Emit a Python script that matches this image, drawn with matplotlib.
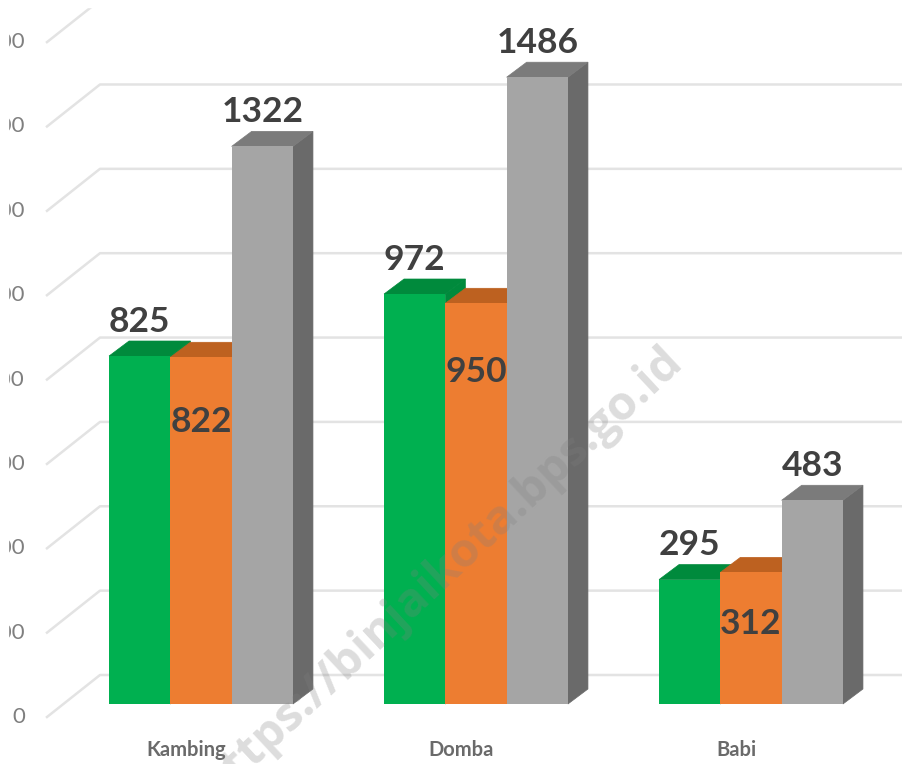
import numpy as np
import matplotlib
matplotlib.use("Agg")
import matplotlib.pyplot as plt
from matplotlib.patches import Polygon

# 1. Data
categories = ["Kambing", "Domba", "Babi"]
series_green = [825, 972, 295]
series_orange = [822, 950, 312]
series_gray = [1322, 1486, 483]
ticks = [0, 200, 400, 600, 800, 1000, 1200, 1400, 1600]

# 2. Figure scale: one axes over the whole picture
W, H = 903, 764
px_x = 275.0        # pixels per category
px_y = 0.4218       # pixels per unit
x0_px = 201.0
y0_px = 704.0

fig = plt.figure(figsize=(W / 100, H / 100), dpi=100)
ax = fig.add_axes([0, 0, 1, 1])
ax.set_xlim(-x0_px / px_x, (W - x0_px) / px_x)
ax.set_ylim(-(H - y0_px) / px_y, y0_px / px_y)
ax.axis("off")

bar_w = 61.3 / px_x
depth_x = 20 / px_x
depth_y = 15 / px_y

# 3. Back wall grid lines with the slanted floor part
wall_left = -154 / px_x
wall_right = -101 / px_x
front_off = -13 / px_y
back_off = 29 / px_y
for t in ticks:
    ax.plot([wall_left, wall_right, ax.get_xlim()[1]],
            [t + front_off, t + back_off, t + back_off],
            color="#e3e3e3", lw=1.8, solid_joinstyle="round", zorder=1)
    # labels are cut by the left edge in the reference too
    ax.text(wall_left - 22 / px_x, t + front_off, str(t), ha="right", va="center",
            fontsize=16, color="#7f7f7f", family="Lato", zorder=2)

# the picture is cropped white along the top and left
ax.axhspan((y0_px - 7) / px_y, y0_px / px_y, color="white", zorder=2.5)
ax.axvspan(-x0_px / px_x, (8 - x0_px) / px_x, color="white", zorder=2.5)


# 4. Bars: side and top faces first, then fronts
def draw_top(values, offset, color, z):
    for i, v in enumerate(values):
        l = i + offset - bar_w / 2
        r = i + offset + bar_w / 2
        ax.add_patch(Polygon([(l, v), (l + depth_x, v + depth_y), (r + depth_x, v + depth_y), (r, v)],
                             facecolor=color, edgecolor=color, lw=0.5, zorder=z))


def draw_side(values, offset, color, z):
    for i, v in enumerate(values):
        r = i + offset + bar_w / 2
        ax.add_patch(Polygon([(r, 0), (r + depth_x, depth_y), (r + depth_x, v + depth_y), (r, v)],
                             facecolor=color, edgecolor=color, lw=0.5, zorder=z))


draw_side(series_green, -bar_w, "#008a3c", 3)
draw_top(series_green, -bar_w, "#008a3c", 3.1)
draw_top(series_orange, 0, "#bd6120", 3.2)
ax.bar(np.arange(3) - bar_w, series_green, width=bar_w, color="#00b050", zorder=3.4)
ax.bar(np.arange(3), series_orange, width=bar_w, color="#ed7d31", zorder=3.6)

draw_side(series_gray, bar_w, "#6a6a6a", 4)
draw_top(series_gray, bar_w, "#7b7b7b", 4.2)
ax.bar(np.arange(3) + bar_w, series_gray, width=bar_w, color="#a5a5a5", zorder=4.4)

# 5. Data labels
label_style = dict(ha="center", va="center", fontsize=25.5, fontweight="bold",
                   color="#404040", family="Lato", zorder=8)
above = 34.5 / px_y
orange_below = [65 / px_y, 69 / px_y, 52 / px_y]
for i in range(3):
    ax.text(i - bar_w, series_green[i] + above, str(series_green[i]), **label_style)
    ax.text(i, series_orange[i] - orange_below[i], str(series_orange[i]), **label_style)
    ax.text(i + bar_w, series_gray[i] + above, str(series_gray[i]), **label_style)

# 6. Category labels
for i, c in enumerate(categories):
    ax.text(i - 15 / px_x, -46 / px_y, c, ha="center", va="center", fontsize=14.5,
            fontweight="bold", color="#6a6a6a", family="Lato", zorder=2)

# 7. Watermark
fig.text(0.488, 0.25, "https://binjaikota.bps.go.id", rotation=43, ha="center", va="center",
         rotation_mode="anchor", fontsize=34, fontweight="bold", color="#808080", alpha=0.27,
         family="Open Sans", zorder=10)

fig.savefig("out.png", dpi=100)
plt.close(fig)
